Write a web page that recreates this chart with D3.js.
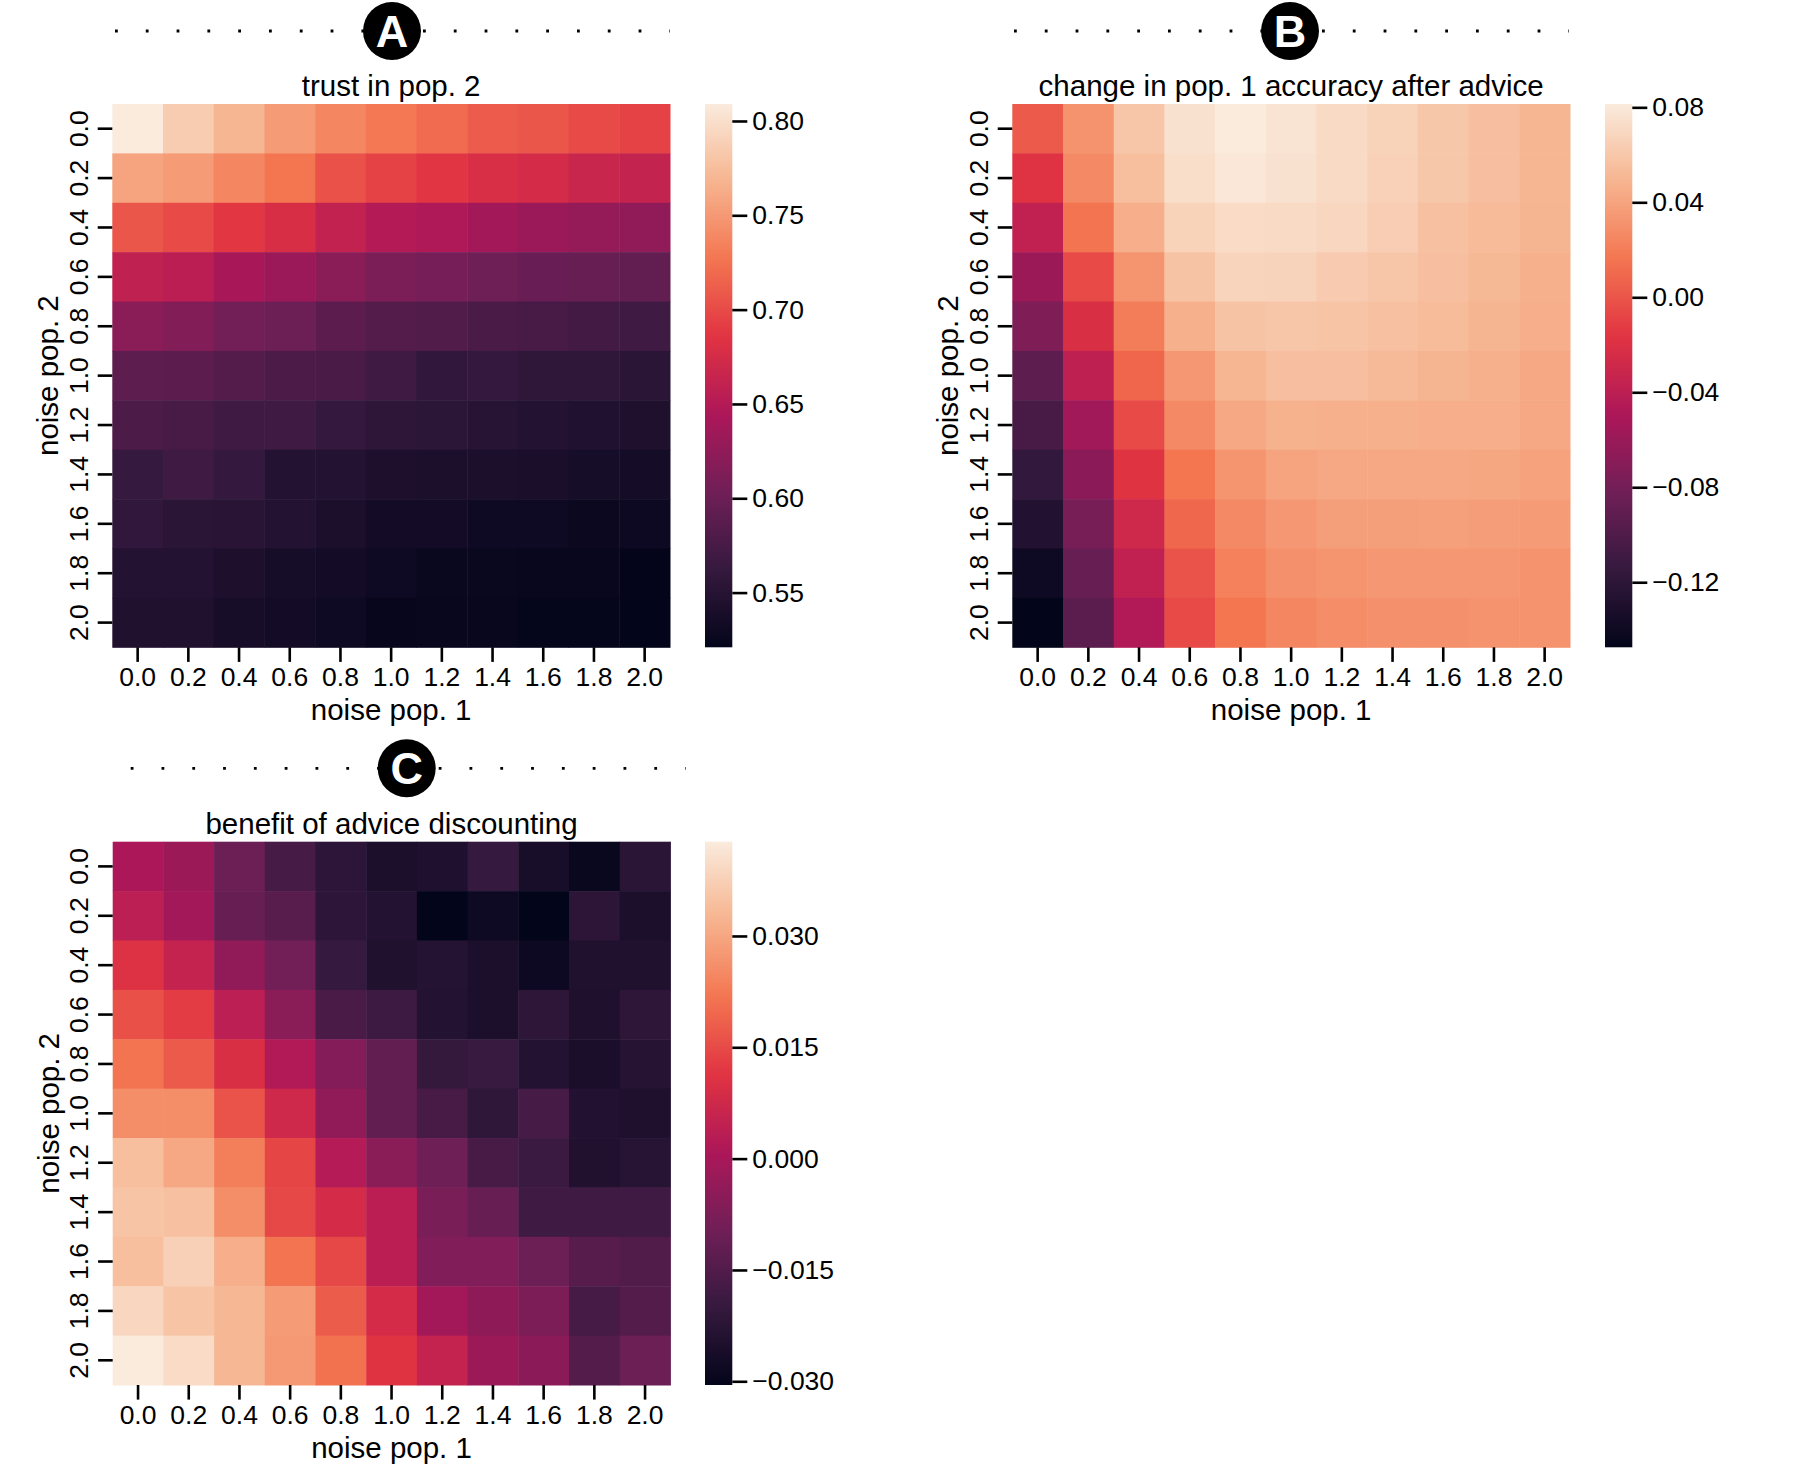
<!DOCTYPE html>
<html>
<head>
<meta charset="utf-8">
<script src="https://cdn.jsdelivr.net/npm/d3@7"></script>
<style>
  body { margin: 0; background: #fff; }
  svg text { font-family: "Liberation Sans", Arial, Helvetica, sans-serif; fill: #000; }
</style>
</head>
<body>
<svg id="chart" width="1800" height="1475"></svg>
<script>
// ---------------- DATA ----------------
const noiseLevels = ["0.0","0.2","0.4","0.6","0.8","1.0","1.2","1.4","1.6","1.8","2.0"];

// rows: noise pop. 2 (0.0 -> 2.0), columns: noise pop. 1 (0.0 -> 2.0)
const trustPop2 = [
  [0.809,0.786,0.769,0.751,0.738,0.728,0.720,0.710,0.707,0.700,0.695],
  [0.757,0.751,0.738,0.727,0.704,0.695,0.687,0.679,0.675,0.666,0.662],
  [0.707,0.700,0.688,0.678,0.661,0.649,0.647,0.637,0.632,0.628,0.625],
  [0.659,0.655,0.641,0.632,0.621,0.611,0.607,0.602,0.598,0.596,0.594],
  [0.621,0.616,0.605,0.600,0.589,0.584,0.582,0.577,0.575,0.571,0.569],
  [0.590,0.589,0.584,0.579,0.576,0.569,0.559,0.561,0.557,0.557,0.554],
  [0.579,0.575,0.569,0.569,0.561,0.556,0.555,0.551,0.547,0.546,0.544],
  [0.563,0.569,0.561,0.548,0.548,0.543,0.541,0.541,0.540,0.537,0.536],
  [0.559,0.553,0.552,0.548,0.541,0.535,0.535,0.531,0.531,0.528,0.530],
  [0.547,0.547,0.543,0.537,0.535,0.531,0.527,0.527,0.525,0.525,0.522],
  [0.545,0.545,0.538,0.535,0.531,0.524,0.525,0.525,0.523,0.523,0.521]
];

const accuracyChange = [
  [ 0.0025, 0.0311, 0.0594, 0.0757, 0.0814, 0.0768, 0.0711, 0.0665, 0.0599, 0.0553, 0.0498],
  [-0.0181, 0.0265, 0.0551, 0.0734, 0.0791, 0.0757, 0.0711, 0.0658, 0.0599, 0.0553, 0.0498],
  [-0.0376, 0.0150, 0.0459, 0.0665, 0.0718, 0.0711, 0.0688, 0.0636, 0.0562, 0.0528, 0.0494],
  [-0.0582,-0.0055, 0.0322, 0.0578, 0.0677, 0.0670, 0.0626, 0.0594, 0.0553, 0.0517, 0.0471],
  [-0.0742,-0.0216, 0.0196, 0.0471, 0.0578, 0.0594, 0.0585, 0.0562, 0.0533, 0.0494, 0.0459],
  [-0.0925,-0.0387, 0.0082, 0.0334, 0.0498, 0.0553, 0.0553, 0.0523, 0.0494, 0.0471, 0.0425],
  [-0.1046,-0.0559,-0.0055, 0.0265, 0.0425, 0.0475, 0.0471, 0.0471, 0.0459, 0.0459, 0.0425],
  [-0.1158,-0.0673,-0.0170, 0.0160, 0.0322, 0.0402, 0.0425, 0.0425, 0.0425, 0.0418, 0.0391],
  [-0.1273,-0.0776,-0.0284, 0.0093, 0.0265, 0.0334, 0.0379, 0.0379, 0.0384, 0.0368, 0.0356],
  [-0.1396,-0.0868,-0.0376,-0.0010, 0.0219, 0.0299, 0.0322, 0.0334, 0.0334, 0.0334, 0.0311],
  [-0.1474,-0.0941,-0.0467,-0.0055, 0.0160, 0.0247, 0.0283, 0.0299, 0.0304, 0.0311, 0.0315]
];

const discountBenefit = [
  [ 0.0006,-0.0020,-0.0104,-0.0170,-0.0219,-0.0254,-0.0248,-0.0200,-0.0260,-0.0290,-0.0222],
  [ 0.0037,-0.0010,-0.0113,-0.0138,-0.0219,-0.0239,-0.0305,-0.0280,-0.0305,-0.0220,-0.0253],
  [ 0.0105, 0.0054,-0.0041,-0.0093,-0.0200,-0.0244,-0.0233,-0.0254,-0.0283,-0.0244,-0.0244],
  [ 0.0158, 0.0127, 0.0037,-0.0052,-0.0164,-0.0186,-0.0235,-0.0254,-0.0217,-0.0246,-0.0216],
  [ 0.0215, 0.0174, 0.0098, 0.0017,-0.0063,-0.0121,-0.0203,-0.0195,-0.0239,-0.0257,-0.0232],
  [ 0.0259, 0.0259, 0.0163, 0.0076,-0.0041,-0.0121,-0.0166,-0.0213,-0.0170,-0.0241,-0.0246],
  [ 0.0343, 0.0303, 0.0233, 0.0142, 0.0024,-0.0052,-0.0100,-0.0166,-0.0191,-0.0243,-0.0230],
  [ 0.0352, 0.0346, 0.0259, 0.0145, 0.0087, 0.0035,-0.0078,-0.0111,-0.0183,-0.0183,-0.0183],
  [ 0.0343, 0.0376, 0.0314, 0.0215, 0.0145, 0.0035,-0.0067,-0.0067,-0.0104,-0.0141,-0.0149],
  [ 0.0387, 0.0352, 0.0329, 0.0281, 0.0178, 0.0087,-0.0010,-0.0044,-0.0075,-0.0171,-0.0148],
  [ 0.0427, 0.0396, 0.0329, 0.0277, 0.0211, 0.0112, 0.0054,-0.0020,-0.0049,-0.0148,-0.0104]
];

const ticksTrust = [0.55, 0.60, 0.65, 0.70, 0.75, 0.80];
const ticksChange = [-0.12, -0.08, -0.04, 0.00, 0.04, 0.08];
const ticksBenefit = [-0.030, -0.015, 0.000, 0.015, 0.030];

const titles = ["trust in pop. 2", "change in pop. 1 accuracy after advice", "benefit of advice discounting"];
const panelLetters = ["A", "B", "C"];
const xLabel = "noise pop. 1";
const yLabel = "noise pop. 2";

// seaborn "rocket" colormap anchors
const rocketStops = ["#03051a","#35193e","#701f57","#ad1759","#e13342","#f37651","#f6b48f","#faebdd"];
const rocket = d3.scaleLinear()
  .domain(rocketStops.map((_, i) => i / (rocketStops.length - 1)))
  .range(rocketStops)
  .interpolate(d3.interpolateRgb)
  .clamp(true);

// ---------------- LAYOUT ----------------
const svg = d3.select("#chart");
const W = 557.7, H = 543.3;
const FS_TICK = 26.5;
const FS_LABEL = 29.5;

const panels = [
  { data: trustPop2, ticks: ticksTrust, fmt: d3.format(".2f"), x0: 112.3, y0: 104,
    cbx: 705, headX0: 115, headCx: 392, headY: 31, title: titles[0], letter: panelLetters[0] },
  { data: accuracyChange, ticks: ticksChange, fmt: d3.format(".2f"), x0: 1012.3, y0: 104,
    cbx: 1605, headX0: 1014, headCx: 1290, headY: 31, title: titles[1], letter: panelLetters[1] },
  { data: discountBenefit, ticks: ticksBenefit, fmt: d3.format(".3f"), x0: 112.7, y0: 841.7,
    cbx: 705, headX0: 130.7, headCx: 406.7, headY: 768.3, title: titles[2], letter: panelLetters[2] }
];

const defs = svg.append("defs");

function styleAxis(sel) {
  sel.select(".domain").remove();
  sel.selectAll(".tick line").attr("stroke", "#000").attr("stroke-width", 2.6);
  sel.selectAll(".tick text").attr("font-size", FS_TICK).attr("fill", "#000")
    .style("font-family", '"Liberation Sans", Arial, Helvetica, sans-serif');
}

panels.forEach((p, pi) => {
  const g = svg.append("g");
  const x = d3.scaleBand().domain(noiseLevels).range([p.x0, p.x0 + W]);
  const y = d3.scaleBand().domain(noiseLevels).range([p.y0, p.y0 + H]);
  const ext = d3.extent(p.data.flat());
  const norm = d3.scaleLinear().domain(ext).range([0, 1]);
  const color = v => rocket(norm(v));

  const cells = p.data.flatMap((row, i) => row.map((v, j) => ({ r: noiseLevels[i], c: noiseLevels[j], v })));
  g.append("g").selectAll("rect").data(cells).join("rect")
    .attr("x", d => x(d.c))
    .attr("y", d => y(d.r))
    .attr("width", x.bandwidth() + 0.5)
    .attr("height", y.bandwidth() + 0.5)
    .attr("fill", d => color(d.v));

  // x axis
  const xa = g.append("g").attr("transform", `translate(0,${p.y0 + H})`)
    .call(d3.axisBottom(x).tickSize(14.6).tickPadding(5.5));
  styleAxis(xa);

  // y axis with rotated labels
  const ya = g.append("g").attr("transform", `translate(${p.x0},0)`)
    .call(d3.axisLeft(y).tickSize(14.6));
  styleAxis(ya);
  ya.selectAll(".tick text")
    .attr("x", null).attr("dy", null)
    .attr("text-anchor", "middle")
    .attr("transform", "translate(-24.5,0) rotate(-90)");

  // axis labels
  g.append("text").attr("x", p.x0 + W / 2).attr("y", p.y0 + H + 73)
    .attr("text-anchor", "middle").attr("font-size", FS_LABEL).text(xLabel);
  g.append("text")
    .attr("transform", `translate(${p.x0 - 54},${p.y0 + H / 2}) rotate(-90)`)
    .attr("text-anchor", "middle").attr("font-size", FS_LABEL).text(yLabel);

  // title
  g.append("text").attr("x", p.x0 + W / 2).attr("y", p.y0 - 8)
    .attr("text-anchor", "middle").attr("font-size", FS_LABEL).text(p.title);

  // colorbar
  const cbW = 27.3;
  const cy = d3.scaleLinear().domain(ext).range([p.y0 + H, p.y0]);
  const gid = "grad" + pi;
  const grad = defs.append("linearGradient").attr("id", gid)
    .attr("x1", 0).attr("y1", 1).attr("x2", 0).attr("y2", 0);
  d3.range(0, 1.0001, 0.02).forEach(t => {
    grad.append("stop").attr("offset", t).attr("stop-color", rocket(t));
  });
  g.append("rect").attr("x", p.cbx).attr("y", p.y0).attr("width", cbW).attr("height", H)
    .attr("fill", `url(#${gid})`);
  const ca = g.append("g").attr("transform", `translate(${p.cbx + cbW},0)`)
    .call(d3.axisRight(cy).tickValues(p.ticks).tickFormat(p.fmt).tickSize(15).tickPadding(5));
  styleAxis(ca);

  // header: dotted line + lettered circle
  g.append("line").attr("x1", p.headX0).attr("x2", p.headX0 + 555)
    .attr("y1", p.headY).attr("y2", p.headY)
    .attr("stroke", "#000").attr("stroke-width", 2.8)
    .attr("stroke-dasharray", "2.8 28");
  g.append("circle").attr("cx", p.headCx).attr("cy", p.headY).attr("r", 29).attr("fill", "#000");
  g.append("text").attr("x", p.headCx).attr("y", p.headY + 16)
    .attr("text-anchor", "middle").attr("font-size", 45).attr("font-weight", "bold")
    .style("fill", "#fff").text(p.letter);
});
</script>
</body>
</html>
